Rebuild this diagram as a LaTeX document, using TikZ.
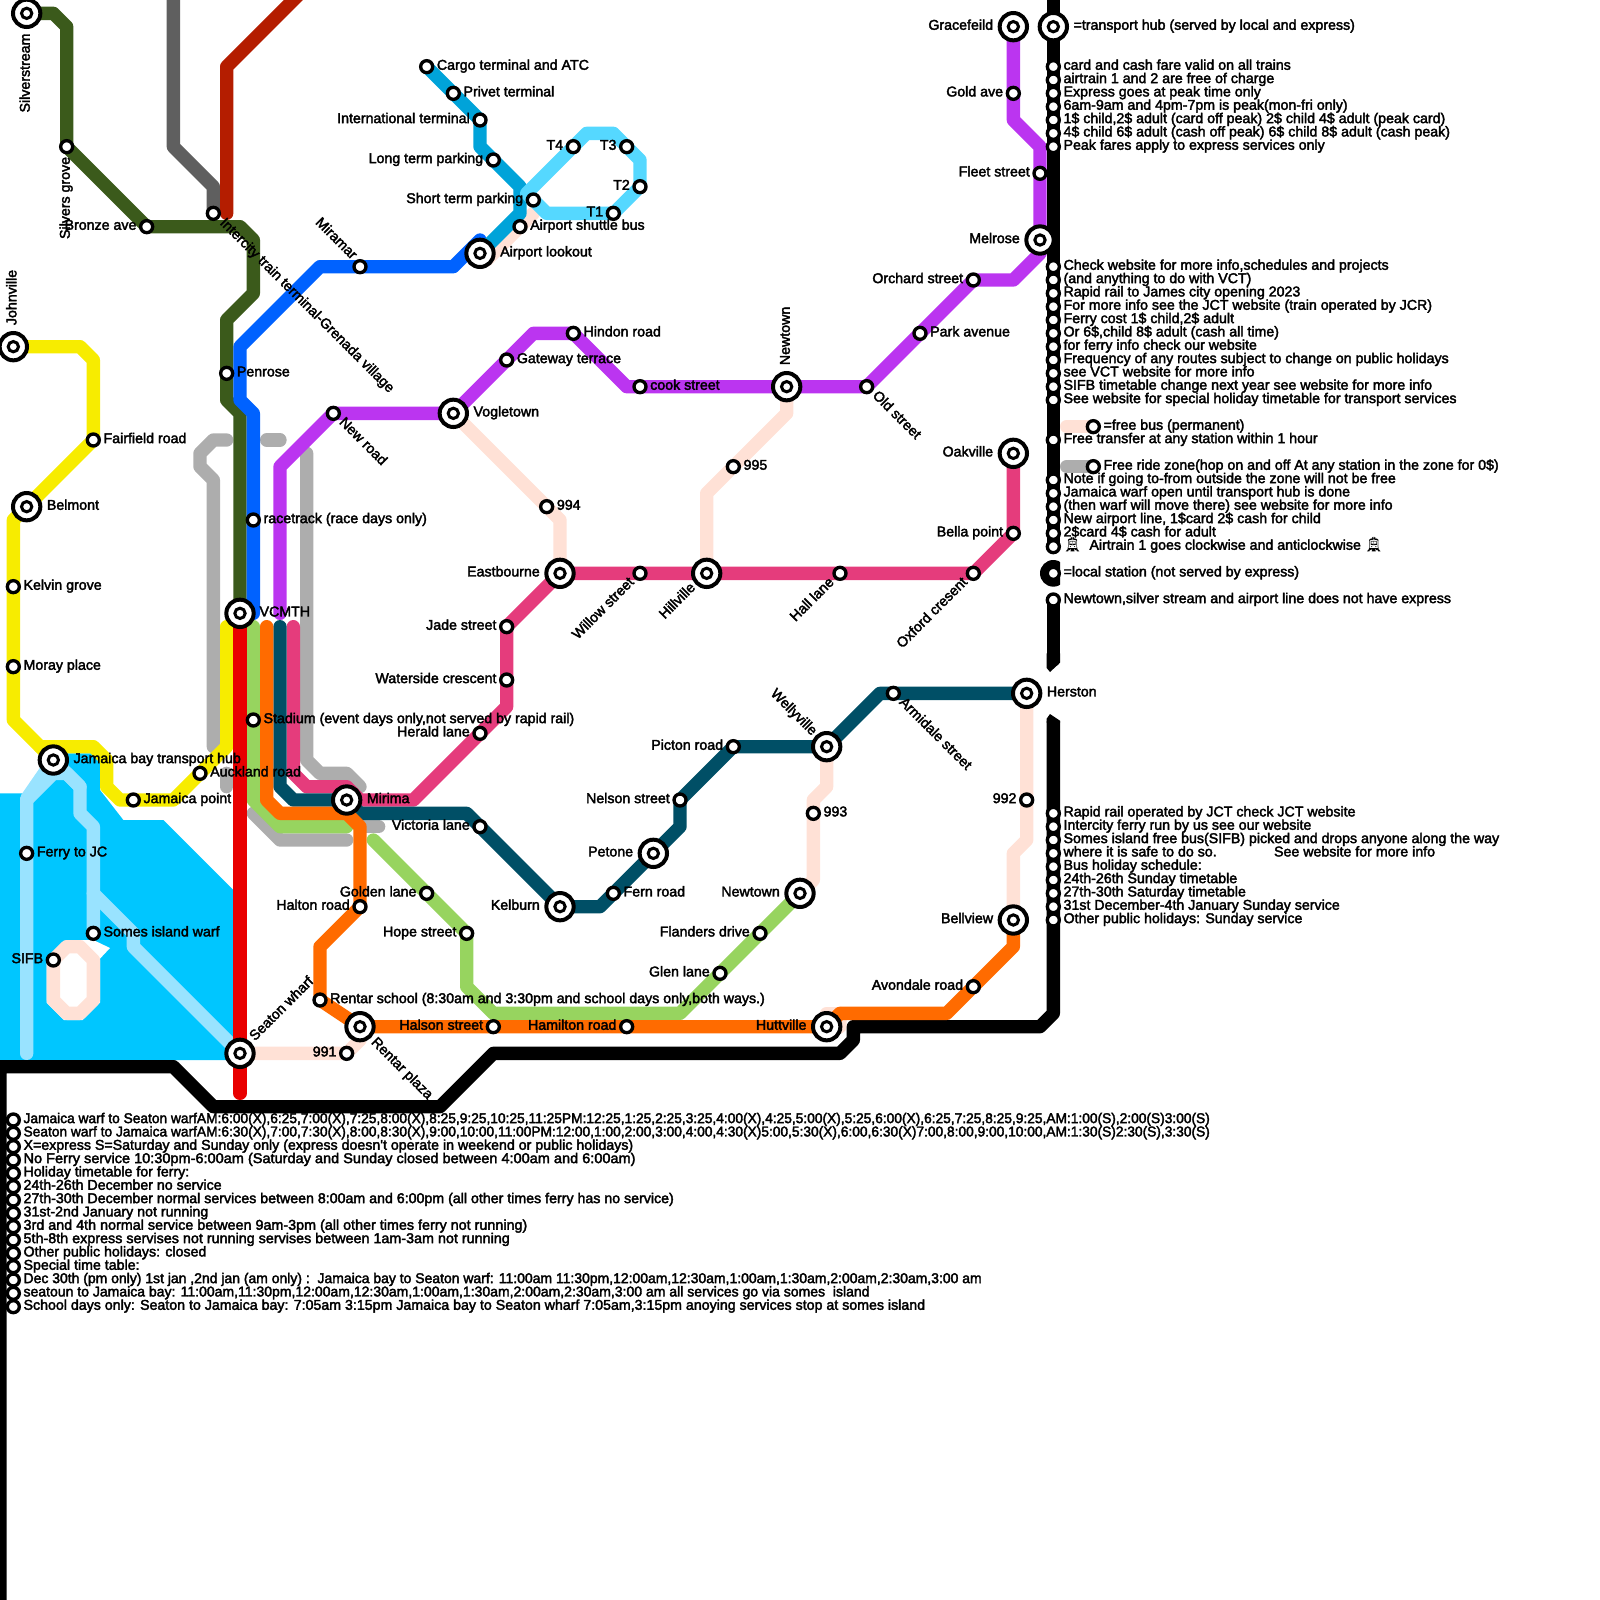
\documentclass[tikz,border=0pt]{standalone}
\usepackage{fontspec}
\usepackage{graphicx}
\setmainfont{Liberation Sans}
\newfontfamily\lblfont{Liberation Sans}[FakeBold=2.5]
\newfontfamily\emofont{Noto Emoji}
\definecolor{cdgreen}{HTML}{3B5A1B}
\definecolor{cdgrey}{HTML}{5F5F5F}
\definecolor{cdred}{HTML}{B41D00}
\definecolor{cblue}{HTML}{0062FF}
\definecolor{cyellow}{HTML}{F7EC00}
\definecolor{cpurple}{HTML}{BB35F0}
\definecolor{cpink}{HTML}{E53C7C}
\definecolor{cteal}{HTML}{004F66}
\definecolor{clgreen}{HTML}{97D45F}
\definecolor{corange}{HTML}{FF6B00}
\definecolor{cpeach}{HTML}{FFE1D6}
\definecolor{clgrey}{HTML}{ADADAD}
\definecolor{cair}{HTML}{00A3D9}
\definecolor{ctrain}{HTML}{55D8FF}
\definecolor{cwater}{HTML}{00C6FF}
\definecolor{cferry}{HTML}{99E3FF}
\definecolor{cred}{HTML}{E90000}
\pgfdeclarelayer{bg}
\pgfsetlayers{bg,main}
\tikzset{
  ln/.style={line width=0.4cm,line cap=round,line join=round},
  stn/.style={circle,draw=black,fill=white,line width=0.1cm,minimum size=0.36cm,inner sep=0pt},
  hubo/.style={circle,draw=black,fill=white,line width=0.12cm,minimum size=0.82cm,inner sep=0pt},
  hubi/.style={circle,draw=black,fill=white,line width=0.09cm,minimum size=0.31cm,inner sep=0pt},
  txt/.style={font=\lblfont\fontsize{12.12}{14}\selectfont,inner sep=0pt,text=black},
}
\newcommand\Stn[3]{\node[stn] (#1) at (#2,#3) {};}
\newcommand\Hub[3]{\node[hubo] (#1) at (#2,#3) {};\node[hubi] (#1i) at (#1.center) {};}
\newcommand\LBL[5]{\node[txt,shift={(#3,#4)},#2] (L#1) at (#1.center) {#5};}
\newcommand\Ee[2]{\LBL{#1}{anchor=mid west}{0.75}{0}{#2}}
\newcommand\Ww[2]{\LBL{#1}{anchor=mid east}{-0.75}{0}{#2}}
\newcommand\HE[2]{\LBL{#1}{anchor=mid west}{1.5}{0}{#2}}
\newcommand\HW[2]{\LBL{#1}{anchor=mid east}{-1.5}{0}{#2}}
\newcommand\Leg[4]{\node[stn] (K#1) at (#2,#3) {};\node[txt,anchor=mid west,shift={(0.75,0)}] (T#1) at (K#1.center) {#4};}
\newcommand\Tram{{\emofont\char"1F68A}}
\begin{document}
\begin{tikzpicture}[x=0.4cm,y=-0.4cm]
\useasboundingbox (0,0) rectangle (120,120);
% --- stations
\Hub{silverstream}{2}{1}
\Stn{silversgrove}{5}{11}
\Stn{bronze}{11}{17}
\Stn{intercity}{16}{16}
\Stn{penrose}{17}{28}
\Hub{johnville}{1}{26}
\Stn{fairfield}{7}{33}
\Hub{belmont}{2}{38}
\Stn{kelvin}{1}{44}
\Stn{moray}{1}{50}
\Hub{jamaicabay}{4}{57}
\Stn{jamaicapoint}{10}{60}
\Stn{auckland}{15}{58}
\Hub{vcmth}{18}{46}
\Stn{racetrack}{19}{39}
\Stn{stadium}{19}{54}
\Hub{mirima}{26}{60}
\Stn{miramar}{27}{20}
\Hub{lookout}{36}{19}
\Stn{cargo}{32}{5}
\Stn{privet}{34}{7}
\Stn{international}{36}{9}
\Stn{longterm}{37}{12}
\Stn{shortterm}{40}{15}
\Stn{shuttle}{39}{17}
\Stn{tfour}{43}{11}
\Stn{tthree}{47}{11}
\Stn{ttwo}{48}{14}
\Stn{tone}{46}{16}
\Hub{gracefeild}{76}{2}
\Stn{goldave}{76}{7}
\Stn{fleet}{78}{13}
\Hub{melrose}{78}{18}
\Stn{orchard}{73}{21}
\Stn{park}{69}{25}
\Stn{oldstreet}{65}{29}
\Hub{newtownn}{59}{29}
\Stn{cook}{48}{29}
\Stn{hindon}{43}{25}
\Stn{gateway}{38}{27}
\Hub{vogletown}{34}{31}
\Stn{newroad}{25}{31}
\Stn{ninefour}{41}{38}
\Stn{ninefive}{55}{35}
\Hub{eastbourne}{42}{43}
\Stn{willow}{48}{43}
\Hub{hillville}{53}{43}
\Stn{hall}{63}{43}
\Stn{oxford}{73}{43}
\Stn{bella}{76}{40}
\Hub{oakville}{76}{34}
\Stn{jade}{38}{47}
\Stn{waterside}{38}{51}
\Stn{herald}{36}{55}
\Stn{victoria}{36}{62}
\Hub{kelburn}{42}{68}
\Stn{fern}{46}{67}
\Hub{petone}{49}{64}
\Stn{nelson}{51}{60}
\Stn{picton}{55}{56}
\Hub{wellyville}{62}{56}
\Stn{armidale}{67}{52}
\Hub{herston}{77}{52}
\Stn{ninetwo}{77}{60}
\Stn{ninethree}{61}{61}
\Hub{newtowns}{60}{67}
\Stn{flanders}{57}{70}
\Stn{glen}{54}{73}
\Stn{golden}{32}{67}
\Stn{hope}{35}{70}
\Stn{halton}{27}{68}
\Stn{rentarschool}{24}{75}
\Hub{rentarplaza}{27}{77}
\Stn{halson}{37}{77}
\Stn{hamilton}{47}{77}
\Hub{huttville}{62}{77}
\Stn{avondale}{73}{74}
\Hub{bellview}{76}{69}
\Stn{nineone}{26}{79}
\Hub{seaton}{18}{79}
\Stn{ferryjc}{2}{64}
\Stn{somes}{7}{70}
\Stn{sifb}{4}{72}
% --- lines
\begin{pgfonlayer}{bg}
\fill[cwater] (0,59.5) -- (2.6,59.5) -- (4,58) -- (5,56.5) -- (7,56.5) -- (7.5,57.25) -- (7.5,59.25) -- (9.25,61.5) -- (12.25,61.5) -- (17.5,66.75) -- (17.5,79.5) -- (0,79.5) -- cycle;
\draw[ln,cferry] (jamaicabay.center) -- (2,59.9) -- (2,79);
\draw[ln,cferry] (2,60) -- (4,58) -- (5,58) -- (6,59) -- (6,61) -- (7,62) -- (somes.center);
\draw[ln,cferry] (jamaicabay.center) -- (6,59);
\draw[ln,cferry] (7,67) -- (10,70) -- (10,71) -- (seaton.center);
\fill[white] (3.5,72) -- (5,70.5) -- (7,70.5) -- (8.25,71.1) -- (7.5,71.9) -- (7.5,75.2) -- (6.2,76.5) -- (4.8,76.5) -- (3.5,75.2) -- cycle;
\draw[ln,cpeach] (sifb.center) -- (5,71) -- (6,71) -- (7,72) -- (7,75) -- (6,76) -- (5,76) -- (4,75) -- cycle;
% free buses
\draw[ln,cpeach] (vogletown.center) -- (ninefour.center) -- (42,39) -- (eastbourne.center);
\draw[ln,cpeach] (hillville.center) -- (53,37) -- (ninefive.center) -- (59,31) -- (newtownn.center);
\draw[ln,cpeach] (wellyville.center) -- (62,59) -- (61,60) -- (ninethree.center) -- (61,66) -- (newtowns.center);
\draw[ln,cpeach] (herston.center) -- (ninetwo.center) -- (77,63) -- (76,64) -- (bellview.center);
\draw[ln,cpeach] (seaton.center) -- (nineone.center) -- (27,78) -- (rentarplaza.center);
\draw[ln,cpeach] (36.5,19.5) -- (shuttle.center) -- (40,16);
\draw[ln,cpeach] (63,76) -- (63,77) -- (62,77.5);
\draw[ln,cpeach] (62,76) -- (63,76);
\draw[ln,cpeach] (80,32) -- (82,32);
% free ride zone
\draw[ln,clgrey] (17,33) -- (16,33) -- (15,34) -- (15,35) -- (16,36) -- (16,56);
\draw[ln,clgrey] (20,33) -- (21,33);
\draw[ln,clgrey] (23,34) -- (23,57) -- (24,58) -- (26,58) -- (27,59);
\draw[ln,clgrey] (17,58) -- (17,59);
\draw[ln,clgrey] (19,61) -- (21,63) -- (26,63);
\draw[ln,clgrey] (27,62) -- (28.4,62);
\draw[ln,clgrey] (80,35) -- (82,35);
% black border lines
\draw[ln,black] (79,0) -- (79,41);
\begin{scope}
\clip (77,41) rectangle (79.5,45);
\fill[black] (79,43) circle (1);
\end{scope}
\draw[ln,black] (79,45) -- (79,49.5);
\fill[black] (78.5,49) -- (79.5,49) -- (79.5,49.7) -- (78.75,50.4) -- (78.5,50.1) -- cycle;
\fill[black] (78.5,54.2) -- (78.5,53.9) -- (78.75,53.55) -- (79.5,54.05) -- (79.5,54.2) -- cycle;
\draw[ln,black,line cap=butt] (79,54.1) -- (79,76) -- (78,77) -- (64,77) -- (64,78) -- (63,79) -- (37,79) -- (33,83) -- (16,83) -- (13,80) -- (0,80) -- (0,121);
% coloured lines
\draw[ln,cdgrey] (13,-1) -- (13,11) -- (16,14) -- (intercity.center);
\draw[ln,cdred] (23,-1) -- (17,5) -- (17,16);
\draw[ln,cyellow] (johnville.center) -- (6,26) -- (7,27) -- (fairfield.center) -- (belmont.center) -- (1,39) -- (kelvin.center) -- (moray.center) -- (1,54) -- (jamaicabay.center);
\draw[ln,cyellow] (3,56) -- (7,56) -- (8,57) -- (8,59) -- (9,60) -- (13,60) -- (auckland.center) -- (17,56) -- (17,47);
\draw[ln,cdgreen] (silverstream.center) -- (4,1) -- (5,2) -- (silversgrove.center) -- (bronze.center) -- (18,17) -- (19,18) -- (19,22) -- (17,24) -- (penrose.center) -- (17,30) -- (18,31) -- (vcmth.center);
\draw[ln,cblue] (36,18) -- (34,20) -- (miramar.center) -- (24,20) -- (18,26) -- (18,30) -- (19,31) -- (racetrack.center) -- (19,46);
\draw[ln,cair] (cargo.center) -- (international.center) -- (36,11) -- (39,14) -- (39,16) -- (lookout.center);
\draw[ln,ctrain] (39.5,14.5) -- (44,10) -- (46,10) -- (48,12) -- (48,14) -- (46,16) -- (41,16) -- (shortterm.center) -- cycle;
\draw[ln,cpurple] (gracefeild.center) -- (76,9) -- (78,11) -- (melrose.center) -- (78,19) -- (76,21) -- (orchard.center) -- (oldstreet.center) -- (47,29) -- (43,25) -- (40,25) -- (vogletown.center) -- (newroad.center) -- (21,35) -- (21,46);
\draw[ln,cpink] (22,47) -- (22,58) -- (23,59) -- (26,59) -- (27,60) -- (31,60) -- (herald.center) -- (38,53) -- (jade.center) -- (eastbourne.center) -- (oxford.center) -- (bella.center) -- (oakville.center);
\draw[ln,cteal] (21,47) -- (21,59) -- (22,60) -- (mirima.center) -- (27,61) -- (35,61) -- (kelburn.center) -- (45,68) -- (petone.center) -- (51,62) -- (nelson.center) -- (picton.center) -- (wellyville.center) -- (66,52) -- (herston.center);
\draw[ln,clgreen] (19,47) -- (19,60) -- (21,62) -- (26,62);
\draw[ln,clgreen] (28,63) -- (hope.center) -- (35,74) -- (37,76) -- (51,76) -- (newtowns.center);
\draw[ln,corange] (20,47) -- (20,60) -- (21,61) -- (26,61) -- (27,62) -- (halton.center) -- (24,71) -- (rentarschool.center) -- (rentarplaza.center) -- (huttville.center) -- (63,76) -- (71,76) -- (76,71) -- (bellview.center);
\draw[ln,cred] (vcmth.center) -- (18,82);
\end{pgfonlayer}
% --- labels
\LBL{silverstream}{rotate=90,anchor=mid east}{0}{1.5}{Silverstream}
\LBL{silversgrove}{rotate=90,anchor=mid east}{0}{0.75}{Silvers grove}
\LBL{johnville}{rotate=90,anchor=mid west}{0}{-1.6}{Johnville}
\LBL{newtownn}{rotate=90,anchor=mid west}{0}{-1.6}{Newtown}
\LBL{miramar}{rotate=-45,anchor=mid east}{-0.45}{-0.65}{Miramar}
\LBL{newroad}{rotate=-45,anchor=mid west}{0.55}{0.55}{New road}
\LBL{intercity}{rotate=-45,anchor=mid west}{0.6}{0.6}{Intercity train terminal-Grenada village}
\LBL{oldstreet}{rotate=-45,anchor=mid west}{0.55}{0.55}{Old street}
\LBL{armidale}{rotate=-45,anchor=mid west}{0.55}{0.55}{Armidale street}
\LBL{rentarplaza}{rotate=-45,anchor=mid west}{0.95}{1.05}{Rentar plaza}
\LBL{seaton}{rotate=45,anchor=mid west}{0.95}{-1.05}{Seaton wharf}
\LBL{willow}{rotate=45,anchor=mid east}{-0.55}{0.55}{Willow street}
\LBL{hillville}{rotate=45,anchor=mid east}{-0.95}{0.95}{Hillville}
\LBL{hall}{rotate=45,anchor=mid east}{-0.55}{0.55}{Hall lane}
\LBL{oxford}{rotate=45,anchor=mid east}{-0.55}{0.55}{Oxford cresent}
\LBL{wellyville}{rotate=-45,anchor=mid east}{-0.95}{-0.95}{Wellyville}
\Ww{bronze}{Bronze ave}
\Ee{penrose}{Penrose}
\Ee{fairfield}{Fairfield road}
\HE{belmont}{Belmont}
\Ee{kelvin}{Kelvin grove}
\Ee{moray}{Moray place}
\HE{jamaicabay}{Jamaica bay transport hub}
\Ee{jamaicapoint}{Jamaica point}
\Ee{auckland}{Auckland road}
\LBL{vcmth}{anchor=mid west}{1.45}{0}{VCMTH}
\Ee{racetrack}{racetrack (race days only)}
\Ee{stadium}{Stadium (event days only,not served by rapid rail)}
\HE{mirima}{Mirima}
\HE{lookout}{Airport lookout}
\Ee{cargo}{Cargo terminal and ATC}
\Ee{privet}{Privet terminal}
\Ww{international}{International terminal}
\Ww{longterm}{Long term parking}
\Ww{shortterm}{Short term parking}
\Ee{shuttle}{Airport shuttle bus}
\Ww{tfour}{T4}
\Ww{tthree}{T3}
\Ww{ttwo}{T2}
\Ww{tone}{T1}
\HW{gracefeild}{Gracefeild}
\Ww{goldave}{Gold ave}
\Ww{fleet}{Fleet street}
\HW{melrose}{Melrose}
\Ww{orchard}{Orchard street}
\Ee{park}{Park avenue}
\Ee{cook}{cook street}
\Ee{hindon}{Hindon road}
\Ee{gateway}{Gateway terrace}
\HE{vogletown}{Vogletown}
\Ee{ninefour}{994}
\Ee{ninefive}{995}
\HW{eastbourne}{Eastbourne}
\Ww{bella}{Bella point}
\HW{oakville}{Oakville}
\Ww{jade}{Jade street}
\Ww{waterside}{Waterside crescent}
\Ww{herald}{Herald lane}
\Ww{victoria}{Victoria lane}
\HW{kelburn}{Kelburn}
\Ee{fern}{Fern road}
\HW{petone}{Petone}
\Ww{nelson}{Nelson street}
\Ww{picton}{Picton road}
\HE{herston}{Herston}
\Ww{ninetwo}{992}
\Ee{ninethree}{993}
\HW{newtowns}{Newtown}
\Ww{flanders}{Flanders drive}
\Ww{glen}{Glen lane}
\Ww{golden}{Golden lane}
\Ww{hope}{Hope street}
\Ww{halton}{Halton road}
\Ee{rentarschool}{Rentar school (8:30am and 3:30pm and school days only,both ways.)}
\Ww{halson}{Halson street}
\Ww{hamilton}{Hamilton road}
\HW{huttville}{Huttville}
\Ww{avondale}{Avondale road}
\HW{bellview}{Bellview}
\Ww{nineone}{991}
\Ee{ferryjc}{Ferry to JC}
\Ee{somes}{Somes island warf}
\Ww{sifb}{SIFB}
% --- right legend
\Hub{legendhub}{79}{2}
\node[txt,anchor=mid west] (tlegendhub) at (80.5,2) {=transport hub (served by local and express)};
\Leg{a5}{79}{5}{card and cash fare valid on all trains}
\Leg{a6}{79}{6}{airtrain 1 and 2 are free of charge}
\Leg{a7}{79}{7}{Express goes at peak time only}
\Leg{a8}{79}{8}{6am-9am and 4pm-7pm is peak(mon-fri only)}
\Leg{a9}{79}{9}{1\$ child,2\$ adult (card off peak) 2\$ child 4\$ adult (peak card)}
\Leg{a10}{79}{10}{4\$ child 6\$ adult (cash off peak) 6\$ child 8\$ adult (cash peak)}
\Leg{a11}{79}{11}{Peak fares apply to express services only}
\Leg{a20}{79}{20}{Check website for more info,schedules and projects}
\Leg{a21}{79}{21}{(and anything to do with VCT)}
\Leg{a22}{79}{22}{Rapid rail to James city opening 2023}
\Leg{a23}{79}{23}{For more info see the JCT website (train operated by JCR)}
\Leg{a24}{79}{24}{Ferry cost 1\$ child,2\$ adult}
\Leg{a25}{79}{25}{Or 6\$,child 8\$ adult (cash all time)}
\Leg{a26}{79}{26}{for ferry info check our website}
\Leg{a27}{79}{27}{Frequency of any routes subject to change on public holidays}
\Leg{a28}{79}{28}{see VCT website for more info}
\Leg{a29}{79}{29}{SIFB timetable change next year see website for more info}
\Leg{a30}{79}{30}{See website for special holiday timetable for transport services}
\Leg{b32}{82}{32}{=free bus (permanent)}
\Leg{a33}{79}{33}{Free transfer at any station within 1 hour}
\Leg{b35}{82}{35}{Free ride zone(hop on and off At any station in the zone for 0\$)}
\Leg{a36}{79}{36}{Note if going to-from outside the zone will not be free}
\Leg{a37}{79}{37}{Jamaica warf open until transport hub is done}
\Leg{a38}{79}{38}{(then warf will move there) see website for more info}
\Leg{a39}{79}{39}{New airport line, 1\$card 2\$ cash for child}
\Leg{a40}{79}{40}{2\$card 4\$ cash for adult}
\Leg{a41}{79}{41}{\Tram\ \ Airtrain 1 goes clockwise and anticlockwise \Tram}
\Leg{a43}{79}{43}{=local station (not served by express)}
\Leg{a45}{79}{45}{Newtown,silver stream and airport line does not have express}
\Leg{a61}{79}{61}{Rapid rail operated by JCT check JCT website}
\Leg{a62}{79}{62}{Intercity ferry run by us see our website}
\Leg{a63}{79}{63}{Somes island free bus(SIFB) picked and drops anyone along the way}
\Leg{a64}{79}{64}{\makebox[6.315cm][l]{where it is safe to do so.}See website for more info}
\Leg{a65}{79}{65}{Bus holiday schedule:}
\Leg{a66}{79}{66}{24th-26th Sunday timetable}
\Leg{a67}{79}{67}{27th-30th Saturday timetable}
\Leg{a68}{79}{68}{31st December-4th January Sunday service}
\Leg{a69}{79}{69}{Other public holidays: Sunday service}
% --- bottom legend
\Leg{c84}{1}{84}{\scalebox{0.968}[1]{Jamaica warf to Seaton warfAM:6:00(X),6:25,7:00(X),7:25,8:00(X),8:25,9:25,10:25,11:25PM:12:25,1:25,2:25,3:25,4:00(X),4:25,5:00(X),5:25,6:00(X),6:25,7:25,8:25,9:25,AM:1:00(S),2:00(S)3:00(S)}}
\Leg{c85}{1}{85}{\scalebox{0.968}[1]{Seaton warf to Jamaica warfAM:6:30(X),7:00,7:30(X),8:00,8:30(X),9:00,10:00,11:00PM:12:00,1:00,2:00,3:00,4:00,4:30(X)5:00,5:30(X),6:00,6:30(X)7:00,8:00,9:00,10:00,AM:1:30(S)2:30(S),3:30(S)}}
\Leg{c86}{1}{86}{X=express S=Saturday and Sunday only (express doesn't operate in weekend or public holidays)}
\Leg{c87}{1}{87}{\scalebox{1.023}[1]{No Ferry service 10:30pm-6:00am (Saturday and Sunday closed between 4:00am and 6:00am)}}
\Leg{c88}{1}{88}{Holiday timetable for ferry:}
\Leg{c89}{1}{89}{24th-26th December no service}
\Leg{c90}{1}{90}{27th-30th December normal services between 8:00am and 6:00pm (all other times ferry has no service)}
\Leg{c91}{1}{91}{31st-2nd January not running}
\Leg{c92}{1}{92}{\scalebox{1.01}[1]{3rd and 4th normal service between 9am-3pm (all other times ferry not running)}}
\Leg{c93}{1}{93}{\scalebox{1.01}[1]{5th-8th express servises not running servises between 1am-3am not running}}
\Leg{c94}{1}{94}{Other public holidays: closed}
\Leg{c95}{1}{95}{Special time table:}
\Leg{c96}{1}{96}{\scalebox{0.983}[1]{Dec 30th (pm only) 1st jan ,2nd jan (am only) :\ \ Jamaica bay to Seaton warf: 11:00am 11:30pm,12:00am,12:30am,1:00am,1:30am,2:00am,2:30am,3:00 am}}
\Leg{c97}{1}{97}{\scalebox{0.987}[1]{seatoun to Jamaica bay: 11:00am,11:30pm,12:00am,12:30am,1:00am,1:30am,2:00am,2:30am,3:00 am all services go via somes\ \ island}}
\Leg{c98}{1}{98}{School days only: Seaton to Jamaica bay: 7:05am 3:15pm Jamaica bay to Seaton wharf 7:05am,3:15pm anoying services stop at somes island}
\end{tikzpicture}
\end{document}
